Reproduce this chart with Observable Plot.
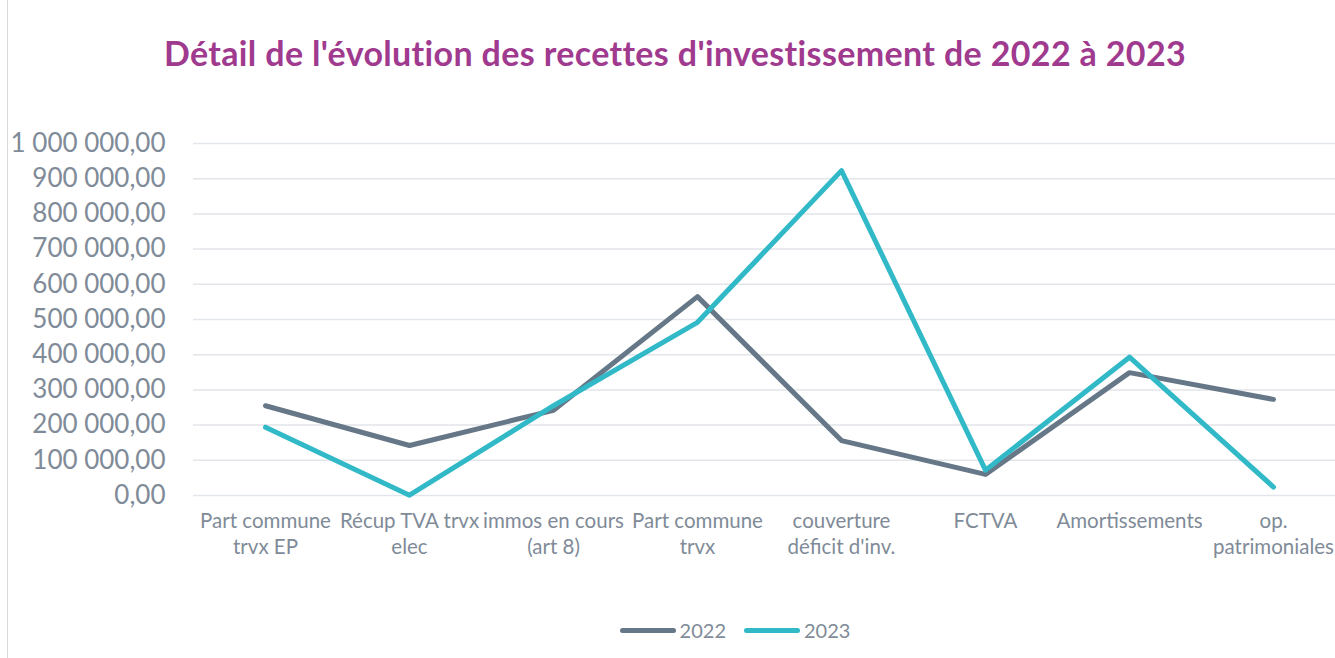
<!DOCTYPE html>
<html>
<head>
<meta charset="utf-8">
<script src="https://cdn.jsdelivr.net/npm/d3@7"></script>
<script src="https://cdn.jsdelivr.net/npm/@observablehq/plot@0.6"></script>
<style>
  html, body { margin: 0; padding: 0; background: #fff; }
  #wrap { position: relative; width: 1335px; height: 658px; overflow: hidden; font-family: Lato, "Open Sans", sans-serif; }
  #border { position: absolute; left: 7px; top: 0; width: 0; height: 658px; border-left: 1.5px solid #d9d9d9; }
  #title { position: absolute; left: 0; top: 0; width: 1350px; height: 100px; text-align: center; color: #a03a8e; font-weight: 700; font-size: 34px; line-height: 34px; letter-spacing: 0.35px; padding-top: 36px; box-sizing: border-box; }
  #chart { position: absolute; left: 0; top: 100px; }
  #legend { position: absolute; left: 0; top: 618px; width: 1335px; display: flex; justify-content: center; align-items: center; color: #7f8b98; font-size: 20px; padding-left: 135px; box-sizing: border-box; }
  .item { display: flex; align-items: center; margin: 0 9px; }
  .sw { width: 56px; height: 5px; border-radius: 3px; margin-right: 4px; }
</style>
</head>
<body>
<div id="wrap">
  <div id="border"></div>
  <div id="title">Détail de l'évolution des recettes d'investissement de 2022 à 2023</div>
  <div id="chart"></div>
  <div id="legend"></div>
</div>
<script>
const categories = [
  "Part commune trvx EP",
  "Récup TVA trvx elec",
  "immos en cours (art 8)",
  "Part commune trvx",
  "couverture déficit d'inv.",
  "FCTVA",
  "Amortissements",
  "op. patrimoniales"
];
const tickLabels = [
  "Part commune\ntrvx EP",
  "Récup TVA trvx\nelec",
  "immos en cours\n(art 8)",
  "Part commune\ntrvx",
  "couverture\ndéficit d'inv.",
  "FCTVA",
  "Amortissements",
  "op.\npatrimoniales"
];
const values2022 = [255000, 142000, 242000, 565000, 156000, 60000, 349000, 273000];
const values2023 = [194000, 1000, 255000, 492000, 923000, 72000, 393000, 24000];
const years = ["2022", "2023"];
const colors = ["#667788", "#31b9c8"];
const yTicks = [0, 100000, 200000, 300000, 400000, 500000, 600000, 700000, 800000, 900000, 1000000];

const data = [
  ...categories.map((c, i) => ({category: c, year: "2022", value: values2022[i]})),
  ...categories.map((c, i) => ({category: c, year: "2023", value: values2023[i]}))
];

const fr = d3.formatLocale({decimal: ",", thousands: " ", grouping: [3], currency: ["", " €"]}).format(",.2f");
const textColor = "#7f8b98";

const chart = Plot.plot({
  width: 1335,
  height: 470,
  marginLeft: 193,
  marginRight: 0,
  marginTop: 43,
  marginBottom: 75,
  style: {fontFamily: "Lato, 'Open Sans', sans-serif", background: "transparent"},
  x: {type: "point", domain: categories, range: [265, 1273], padding: 0, label: null},
  y: {domain: [0, 1000000], label: null},
  color: {domain: years, range: colors},
  marks: [
    Plot.ruleY(yTicks, {stroke: "#e2e5e9", strokeWidth: 1.5}),
    Plot.axisY({ticks: yTicks, tickSize: 0, tickPadding: 28, tickFormat: fr, fontSize: 26, color: textColor, label: null}),
    Plot.axisX({tickSize: 0, tickPadding: 14, tickFormat: d => tickLabels[categories.indexOf(d)], fontSize: 20.5, lineHeight: 1.28, color: textColor, label: null}),
    Plot.line(data, {x: "category", y: "value", z: "year", stroke: "year", strokeWidth: 5, strokeLinecap: "round", strokeLinejoin: "round"})
  ]
});
document.getElementById("chart").appendChild(chart);

const legend = document.getElementById("legend");
years.forEach((y, i) => {
  const item = document.createElement("div");
  item.className = "item";
  const sw = document.createElement("div");
  sw.className = "sw";
  sw.style.background = colors[i];
  const t = document.createElement("span");
  t.textContent = y;
  item.appendChild(sw);
  item.appendChild(t);
  legend.appendChild(item);
});
</script>
</body>
</html>
